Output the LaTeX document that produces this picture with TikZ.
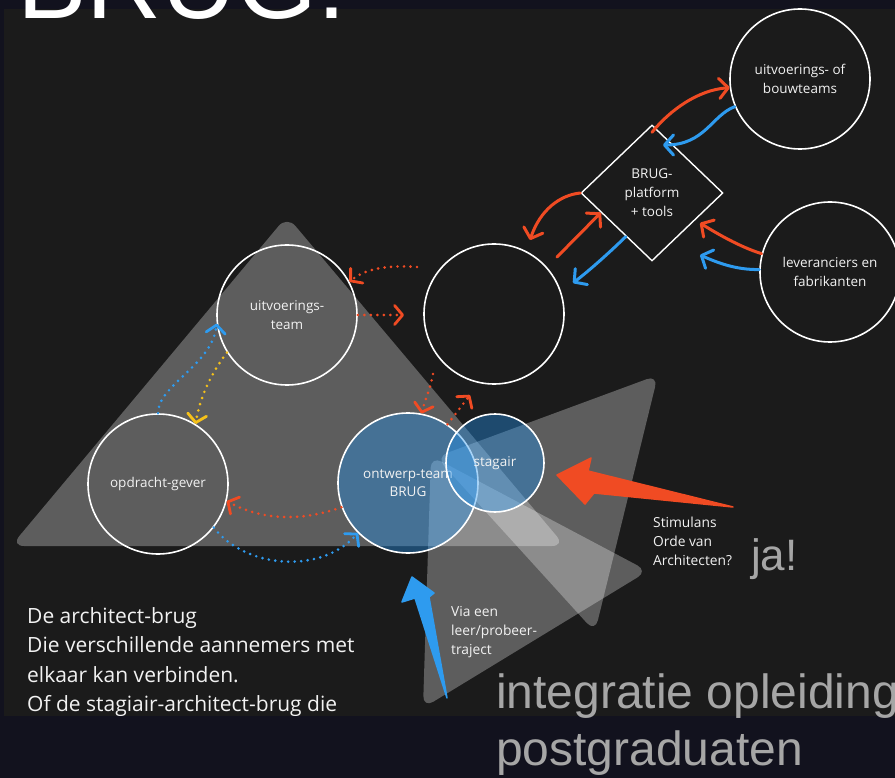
\documentclass[tikz,border=0pt]{standalone}
\usepackage{fontspec}
\setmainfont{Open Sans}
\newfontfamily\helv{Liberation Sans}
\usetikzlibrary{arrows.meta,shapes.geometric}
\definecolor{navy}{HTML}{12121E}
\definecolor{panel}{HTML}{1B1B1B}
\definecolor{wred}{HTML}{F04B23}
\definecolor{wblue}{HTML}{2E9BEF}
\definecolor{wyellow}{HTML}{F5C11A}
\definecolor{bfill}{RGB}{35,145,235}
\definecolor{bigtext}{HTML}{A6A6A6}
\definecolor{lbltext}{HTML}{F2F2F2}
\begin{document}
\begin{tikzpicture}[x=1pt,y=-1pt,
  circ/.style={circle, draw=white, line width=1.6pt, minimum size=140pt, inner sep=0pt,
    align=center, text=lbltext, font=\fontsize{13.5}{18.5}\selectfont},
  bluecirc/.style={circ, fill=bfill, fill opacity=0.4, draw opacity=1, text opacity=1},
  dia/.style={diamond, draw=white, line width=1.4pt, minimum width=142pt, minimum height=136pt,
    inner sep=0pt, align=center, text=lbltext, font=\fontsize{13.5}{19}\selectfont},
  tri/.style={fill=white, fill opacity=0.29, rounded corners=13pt},
  dotarr/.style={line width=2.9pt, dash pattern=on 0pt off 6.5pt, line cap=round,
    -{Straight Barb[length=8pt,width=19pt,line width=2.8pt,round]}},
  solarr/.style={line width=3pt, line cap=round,
    -{Straight Barb[length=9pt,width=20pt,round]}},
  lbl/.style={anchor=base west, inner sep=0pt, text=lbltext, font=\fontsize{13.8}{19}\selectfont},
  para/.style={anchor=base west, inner sep=0pt, text=lbltext, font=\fontsize{21}{29}\selectfont},
  big/.style={anchor=base west, inner sep=0pt, text=bigtext, font=\helv\fontsize{48}{56}\selectfont}
]
\useasboundingbox (0,0) rectangle (895,778);
\clip (0,0) rectangle (895,778);
% backgrounds
\fill[navy] (0,0) rectangle (895,778);
\fill[panel] (4,9) rectangle (895,716);
% translucent triangles
\fill[tri] (11,546) -- (287,216) -- (565,546) -- cycle;
\fill[tri, rounded corners=12pt] (436,457) -- (658,375) -- (595,632) -- cycle;
\fill[tri, rounded corners=12pt] (431,456) -- (423,708) -- (648,571) -- cycle;
% nodes
\node[circ] (ut) at (287,315) {uitvoerings-\\team};
\node[circ] (og) at (158,484) {opdracht-gever};
\node[circ] (mid) at (494,314) {};
\node[circ] (bt) at (800,79) {uitvoerings- of\\bouwteams};
\node[circ] (lv) at (830,272) {leveranciers en\\fabrikanten};
\node[bluecirc] (ow) at (408,483) {ontwerp-team\\BRUG};
\node[bluecirc, minimum size=98pt] (sg) at (495,463) {stagair};
\node[dia] (dm) at (652,193) {BRUG-\\platform\\+ tools};
% free ends
\coordinate (c1) at (417,267);
\coordinate (c2) at (404,315);
\coordinate (c3) at (433,374);
\coordinate (c4) at (470,395);
\coordinate (c5) at (663,145);
\coordinate (c6) at (530,240);
\coordinate (c7) at (557,257);
\coordinate (c8) at (573,283);
\coordinate (c9) at (700,223);
\coordinate (c10) at (700,255);
% dotted connectors
\draw[dotarr, wred] (c1) .. controls (390,265) and (366,268) .. (ut.28);
\draw[dotarr, wred] (ut.0) -- (c2);
\draw[dotarr, wyellow] (ut.212) .. controls (210,375) and (200,398) .. (og.58);
\draw[dotarr, wblue] (og.90) .. controls (158,385) and (212,365) .. (ut.187);
\draw[dotarr, wred] (ow.200) .. controls (300,522) and (262,520) .. (og.346);
\draw[dotarr, wblue] (og.322) .. controls (245,568) and (320,575) .. (ow.225);
\draw[dotarr, wred] (c3) .. controls (430,390) and (425,400) .. (ow.79);
\draw[dotarr, wred] (ow.56) -- (c4);
% solid connectors
\draw[solarr, wred] ([yshift=-8pt]dm.north) .. controls (670,110) and (698,90) .. (bt.187);
\draw[solarr, wblue] (bt.203) .. controls (712,115) and (705,145) .. (c5);
\draw[solarr, wred] (dm.west) .. controls (560,195) and (540,210) .. (c6);
\draw[solarr, wred] (c7) -- (dm.201);
\draw[solarr, wblue] (dm.239) .. controls (610,252) and (590,270) .. (c8);
\draw[solarr, wred] (lv.165) .. controls (740,247) and (716,233) .. (c9);
\draw[solarr, wblue] (lv.178) .. controls (735,270) and (716,262) .. (c10);
% big filled arrows
\filldraw[wred, line width=1.5pt, line join=round] (557,475) -- (591,458) -- (588,471) -- (733,507) -- (594,493) -- (585,504) -- cycle;
\filldraw[wblue, line width=1.5pt, line join=round] (412,577) -- (434,593) -- (429,597) -- (447,698) -- (415,598) -- (402,602) -- cycle;
% labels
\node[lbl] (s1) at (653,527) {Stimulans};
\node[lbl] (s2) at (653,546) {Orde van};
\node[lbl] (s3) at (653,565) {Architecten?};
\node[lbl] (v1) at (451,616) {Via een};
\node[lbl] (v2) at (451,635) {leer/probeer-};
\node[lbl] (v3) at (451,654) {traject};
\node[anchor=base west, inner sep=0pt, text=bigtext, font=\helv\fontsize{44}{50}\selectfont] (ja) at (751,570) {ja!};
% paragraph
\node[para] (p1) at (27,623) {De architect-brug};
\node[para] (p2) at (27,652.5) {Die verschillende aannemers met};
\node[para] (p3) at (27,682) {elkaar kan verbinden.};
\node[para] (p4) at (27,711.5) {Of de stagiair-architect-brug die};
\fill[navy] (0,716) rectangle (895,778);
% big texts
\node[big] (i1) at (496,708) {integratie opleiding};
\node[big] (i2) at (496,765) {postgraduaten};
\node[anchor=base west, inner sep=0pt, text=white, font=\helv\fontsize{104}{110}\selectfont] (title) at (17,19) {BRUG:};
\end{tikzpicture}
\end{document}
